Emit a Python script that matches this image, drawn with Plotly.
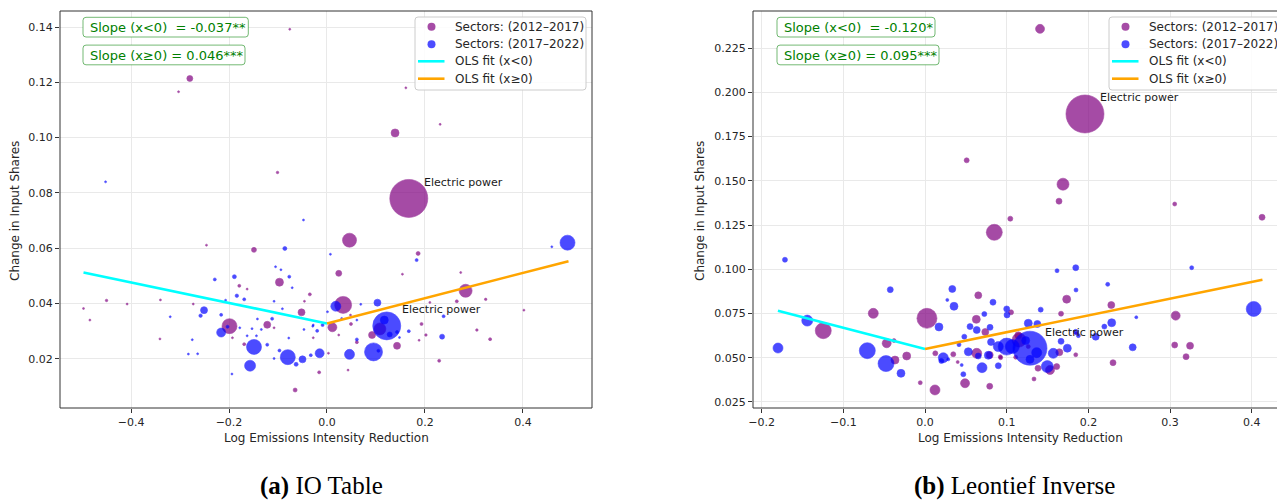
import plotly.graph_objects as go

# ---------------- data: panel (a) IO Table ----------------
a_p1_x = [-0.280, -0.303, -0.076, -0.101, -0.246, -0.149, 0.161, 0.231, 0.139, 0.167, 0.046,
          -0.497, -0.484, -0.450, -0.408, -0.340, -0.341, -0.273, -0.199, -0.179, -0.163, -0.097,
          -0.035, -0.046, -0.052, -0.122, -0.108, -0.169, -0.193, -0.065, -0.016, -0.028, 0.186,
          0.024, 0.154, 0.273, 0.283, 0.265, 0.324, 0.210, 0.033, 0.402, 0.011, 0.048, 0.049,
          0.024, 0.061, 0.193, 0.202, 0.306, 0.333, 0.229, 0.143, 0.092, 0.108, 0.043, 0.188, 0.003]
a_p1_y = [0.1214, 0.1166, 0.1392, 0.0874, 0.0611, 0.0594, 0.1180, 0.1048, 0.1017, 0.0780, 0.0629,
          0.0382, 0.0340, 0.0411, 0.0398, 0.0413, 0.0272, 0.0398, 0.0318, 0.0464, 0.0452, 0.0477,
          0.0433, 0.0408, 0.0368, 0.0323, 0.0312, 0.0253, 0.0276, 0.0087, 0.0151, 0.0276, 0.0581,
          0.0509, 0.0506, 0.0512, 0.0446, 0.0408, 0.0415, 0.0404, 0.0395, 0.0376, 0.0314, 0.0358, 0.0326,
          0.0286, 0.0260, 0.0326, 0.0286, 0.0304, 0.0271, 0.0193, 0.0247, 0.0286, 0.0308, 0.0159, 0.0267, 0.0220]
a_p1_w = [36, 2.3, 2.3, 6.3, 4, 25, 4, 2.3, 64, 1444, 196,
          2.3, 2.3, 6.3, 2.3, 2.3, 2.3, 2.3, 225, 9, 2.3, 64,
          9, 4, 49, 49, 4, 9, 2.3, 16, 9, 2.3, 16,
          36, 2.3, 2.3, 169, 9, 6.3, 4, 289, 2.3, 81, 4, 9,
          4, 9, 9, 6.3, 6.3, 9, 9, 49, 49, 144, 2.3, 2.3, 2.3]

a_p2_x = [0.491, 0.459, -0.048, -0.452, -0.086, -0.189, -0.229, -0.184, -0.169, -0.207, -0.251,
          -0.258, -0.320, -0.216, -0.216, -0.203, -0.275, -0.283, -0.149, -0.157, -0.194, -0.094,
          -0.105, -0.077, -0.071, -0.091, -0.142, -0.112, -0.153, -0.134, -0.178, -0.163, -0.144,
          -0.122, -0.078, -0.047, -0.029, -0.020, -0.009, -0.097, -0.080, -0.108, -0.063, -0.050,
          -0.033, -0.015, -0.264, -0.108, 0.001, 0.007, 0.183, 0.018, 0.103, 0.069, 0.122, 0.117,
          0.128, 0.143, 0.148, 0.167, 0.238, 0.235, 0.095, 0.105, 0.046, 0.061, 0.061, 0.030, -0.028]
a_p2_y = [0.0620, 0.0605, 0.0702, 0.0840, 0.0599, 0.0497, 0.0487, 0.0428, 0.0415, 0.0412, 0.0376,
          0.0356, 0.0352, 0.0359, 0.0295, 0.0316, 0.0269, 0.0217, 0.0243, 0.0175, 0.0145, 0.0522,
          0.0533, 0.0497, 0.0457, 0.0381, 0.0344, 0.0345, 0.0309, 0.0306, 0.0312, 0.0283, 0.0283,
          0.0251, 0.0275, 0.0306, 0.0318, 0.0301, 0.0322, 0.0230, 0.0206, 0.0201, 0.0180, 0.0198,
          0.0213, 0.0220, 0.0218, 0.0408, 0.0370, 0.0578, 0.0557, 0.0390, 0.0403, 0.0397, 0.0319, 0.0340,
          0.0288, 0.0297, 0.0277, 0.0300, 0.0354, 0.0280, 0.0225, 0.0229, 0.0216, 0.0270, 0.0340, 0.0346, 0.0322]
a_p2_w = [225, 2.3, 4, 4, 16, 16, 9, 12, 9, 4, 49,
          12, 2.3, 9, 81, 9, 4, 4, 225, 121, 4, 4,
          2.3, 9, 4, 4, 4, 9, 4, 4, 4, 4, 4,
          9, 4, 4, 4, 9, 9, 9, 225, 4, 16, 49,
          9, 81, 4, 2.3, 4, 4, 9, 100, 49, 4, 784, 64,
          25, 9, 4, 9, 9, 25, 324, 9, 100, 9, 4, 4, 4]

a_neg_fit_x = [-0.497, 0.0]
a_neg_fit_y = [0.0512, 0.0328]
a_pos_fit_x = [0.0, 0.493]
a_pos_fit_y = [0.0328, 0.0553]

# ---------------- data: panel (b) Leontief Inverse ----------------
b_p1_x = [0.1408, 0.1958, 0.0510, 0.1689, 0.1640, 0.3056, 0.4125, 0.1044, 0.0848, -0.0633,
          -0.1245, 0.0024, -0.0469, -0.0379, -0.0367, -0.0224, -0.0058, 0.0122, 0.0126, 0.0346,
          0.0400, 0.0490, 0.0652, 0.1734, 0.2280, 0.1665, 0.3068, 0.1053, 0.0628, 0.0738,
          0.1852, 0.3056, 0.3244, 0.3195, 0.1845, 0.2301, 0.0792, 0.1334, 0.0633, 0.0922,
          0.1151, 0.1383, 0.1612, 0.1530, 0.1264, 0.1142, 0.0792, 0.1644, 0.1110, 0.0926]
b_p1_y = [0.2359, 0.1878, 0.1616, 0.1481, 0.1385, 0.1369, 0.1294, 0.1286, 0.1209, 0.0751,
          0.0653, 0.0723, 0.0582, 0.0597, 0.0487, 0.0510, 0.0359, 0.0318, 0.0525, 0.0520,
          0.0476, 0.0356, 0.0853, 0.0831, 0.0798, 0.0749, 0.0738, 0.0757, 0.0717, 0.0646,
          0.0638, 0.0572, 0.0568, 0.0506, 0.0517, 0.0472, 0.0339, 0.0380, 0.0525, 0.0506,
          0.0600, 0.0441, 0.0450, 0.0431, 0.0563, 0.0627, 0.0516, 0.0531, 0.0503, 0.0500]
b_p1_w = [81, 1444, 25, 144, 36, 16, 36, 25, 256, 100,
          256, 400, 81, 16, 64, 64, 16, 100, 25, 25,
          9, 81, 49, 64, 49, 25, 81, 25, 64, 49,
          9, 36, 49, 36, 16, 36, 36, 16, 100, 16,
          196, 36, 36, 81, 16, 49, 49, 49, 16, 16]

b_p2_x = [-0.1714, -0.0425, 0.0334, 0.0273, 0.0355, -0.1441, -0.1799, -0.0706, -0.0477, -0.0294,
          0.0171, 0.0224, 0.0200, 0.0449, 0.0469, 0.0481, 0.0416, 0.0551, 0.0530, 0.0285,
          0.1845, 0.1616, 0.3264, 0.2236, 0.1848, 0.0832, 0.1000, 0.0726, 0.1416, 0.2586,
          0.4023, 0.2285, 0.2195, 0.2089, 0.2542, 0.1665, 0.1742, 0.1264, 0.1375, 0.0796,
          0.1000, 0.0897, 0.1285, 0.1367, 0.1497, 0.1570, 0.0698, 0.0897, 0.0775, 0.0652,
          0.1004, 0.0633, 0.0808, 0.1845, 0.1877, 0.1232, 0.1285, 0.1069]
b_p2_y = [0.1054, 0.0885, 0.0889, 0.0827, 0.0791, 0.0710, 0.0555, 0.0540, 0.0467, 0.0412,
          0.0674, 0.0500, 0.0482, 0.0459, 0.0407, 0.0619, 0.0574, 0.0676, 0.0534, 0.0491,
          0.1009, 0.0992, 0.1009, 0.0915, 0.0883, 0.0814, 0.0776, 0.0747, 0.0772, 0.0729,
          0.0776, 0.0698, 0.0676, 0.0619, 0.0559, 0.0593, 0.0554, 0.0695, 0.0691, 0.0672,
          0.0563, 0.0563, 0.0554, 0.0529, 0.0450, 0.0525, 0.0444, 0.0455, 0.0514, 0.0510,
          0.0742, 0.0657, 0.0589, 0.0647, 0.0625, 0.0597, 0.0491, 0.0563]
b_p2_w = [25, 36, 49, 9, 64, 121, 100, 256, 256, 64,
          64, 100, 25, 9, 25, 25, 16, 36, 64, 9,
          36, 16, 16, 16, 16, 36, 36, 25, 25, 9,
          225, 64, 25, 49, 49, 36, 64, 64, 49, 36,
          289, 100, 1156, 100, 144, 100, 100, 36, 64, 36,
          36, 49, 49, 25, 16, 64, 64, 196]

b_neg_fit_x = [-0.180, 0.0]
b_neg_fit_y = [0.0766, 0.0550]
b_pos_fit_x = [0.0, 0.413]
b_pos_fit_y = [0.0550, 0.0941]

series_names = ["Sectors: (2012\u20132017)", "Sectors: (2017\u20132022)",
                "OLS fit (x&lt;0)", "OLS fit (x\u22650)"]
slope_texts_a = ["Slope (x&lt;0)\u00a0 = -0.037**", "Slope (x\u22650) = 0.046***"]
slope_texts_b = ["Slope (x&lt;0)\u00a0 = -0.120*", "Slope (x\u22650) = 0.095***"]
captions = ["<b>(a)</b> IO Table", "<b>(b)</b> Leontief Inverse"]
label_text = "Electric power"

# ---------------- figure ----------------
W, H = 1277, 502
PURPLE, BLUE, CYAN, ORANGE = "#800080", "#0000ff", "#00ffff", "#ffa500"


def px(p):
    return p / W


def py(p):
    return 1 - p / H


def rrect(x0, y0, x1, y1, r):
    X, Y = px, py
    return (f"M {X(x0 + r)},{Y(y0)} L {X(x1 - r)},{Y(y0)} Q {X(x1)},{Y(y0)} {X(x1)},{Y(y0 + r)} "
            f"L {X(x1)},{Y(y1 - r)} Q {X(x1)},{Y(y1)} {X(x1 - r)},{Y(y1)} "
            f"L {X(x0 + r)},{Y(y1)} Q {X(x0)},{Y(y1)} {X(x0)},{Y(y1 - r)} "
            f"L {X(x0)},{Y(y0 + r)} Q {X(x0)},{Y(y0)} {X(x0 + r)},{Y(y0)} Z")


fig = go.Figure()


def add_panel(xa, ya, p1, p2, negfit, posfit):
    for (sx, sy, sw), col, nm in [(p1, PURPLE, series_names[0]), (p2, BLUE, series_names[1])]:
        fig.add_trace(go.Scatter(x=sx, y=sy, mode="markers", name=nm, showlegend=False,
                                 marker=dict(color=col, size=sw, sizemode="area", sizeref=2,
                                             sizemin=1, opacity=0.7,
                                             line=dict(color=col, width=0.6)),
                                 xaxis=xa, yaxis=ya))
    fig.add_trace(go.Scatter(x=negfit[0], y=negfit[1], mode="lines", name=series_names[2],
                             showlegend=False, line=dict(color=CYAN, width=2.6),
                             xaxis=xa, yaxis=ya))
    fig.add_trace(go.Scatter(x=posfit[0], y=posfit[1], mode="lines", name=series_names[3],
                             showlegend=False, line=dict(color=ORANGE, width=2.6),
                             xaxis=xa, yaxis=ya))


add_panel("x", "y", (a_p1_x, a_p1_y, a_p1_w), (a_p2_x, a_p2_y, a_p2_w),
          (a_neg_fit_x, a_neg_fit_y), (a_pos_fit_x, a_pos_fit_y))
add_panel("x2", "y2", (b_p1_x, b_p1_y, b_p1_w), (b_p2_x, b_p2_y, b_p2_w),
          (b_neg_fit_x, b_neg_fit_y), (b_pos_fit_x, b_pos_fit_y))

axis_common = dict(showgrid=True, gridcolor="#e9e9e9", gridwidth=1, zeroline=False,
                   showline=False, ticks="outside", ticklen=4, tickwidth=1,
                   tickcolor="#333333", tickfont=dict(size=11, color="#262626"))

fig.update_layout(
    width=W, height=H,
    margin=dict(l=0, r=0, t=0, b=0, autoexpand=False),
    paper_bgcolor="white", plot_bgcolor="white", showlegend=False,
    font=dict(family="DejaVu Sans", size=12, color="#262626"),
    xaxis=dict(domain=[px(60), px(592)], range=[-0.545, 0.541], anchor="y",
               tickvals=[-0.4, -0.2, 0.0, 0.2, 0.4], tickformat=".1f", **axis_common),
    yaxis=dict(domain=[py(408), py(11)], range=[0.0022, 0.1458], anchor="x",
               tickvals=[0.02, 0.04, 0.06, 0.08, 0.10, 0.12, 0.14], tickformat=".2f",
               **axis_common),
    xaxis2=dict(domain=[px(753), 1.0], range=[-0.2105, 0.4308], anchor="y2",
                tickvals=[-0.2, -0.1, 0.0, 0.1, 0.2, 0.3, 0.4], tickformat=".1f",
                **axis_common),
    yaxis2=dict(domain=[py(408), py(11)], range=[0.0216, 0.246], anchor="x2",
                tickvals=[0.025, 0.05, 0.075, 0.1, 0.125, 0.15, 0.175, 0.2, 0.225],
                tickformat=".3f", **axis_common),
)

shapes = []
annots = []

# axes frames
for x0, x1 in [(60, 592), (753, 1286)]:
    shapes.append(dict(type="rect", xref="paper", yref="paper", x0=px(x0), x1=px(x1),
                       y0=py(408), y1=py(11), line=dict(color="#333333", width=1),
                       fillcolor="rgba(0,0,0,0)", layer="above"))

# legends (box, symbols, labels)
for bx0, bx1 in [(415, 586), (1109, 1290)]:
    shapes.append(dict(type="path", xref="paper", yref="paper", path=rrect(bx0, 17, bx1, 90, 3),
                       line=dict(color="#cccccc", width=1), fillcolor="rgba(255,255,255,0.85)",
                       layer="above"))
    mx = bx0 + 16.5
    for cy, col in [(26.7, PURPLE), (44.3, BLUE)]:
        shapes.append(dict(type="circle", xref="paper", yref="paper", x0=px(mx - 4),
                           x1=px(mx + 4), y0=py(cy + 4), y1=py(cy - 4), fillcolor=col,
                           opacity=0.7, line=dict(width=0), layer="above"))
    for cy, col in [(61.3, CYAN), (78.7, ORANGE)]:
        shapes.append(dict(type="line", xref="paper", yref="paper", x0=px(bx0 + 3),
                           x1=px(bx0 + 29.5), y0=py(cy), y1=py(cy),
                           line=dict(color=col, width=2.6), layer="above"))
    for cy, nm in zip([26.7, 44.3, 61.3, 78.7], series_names):
        annots.append(dict(xref="paper", yref="paper", x=px(bx0 + 38), y=py(cy),
                           xanchor="left", yanchor="middle", text=nm, showarrow=False,
                           font=dict(size=12, color="#262626")))

# slope boxes
for left, texts, rights in [(83, slope_texts_a, (248.3, 245)), (777, slope_texts_b, (935, 939))]:
    for i, t in enumerate(texts):
        top = 17.3 + 27.8 * i
        shapes.append(dict(type="path", xref="paper", yref="paper",
                           path=rrect(left, top, rights[i], top + 19.7, 3),
                           line=dict(color="rgba(0,128,0,0.55)", width=1), fillcolor="white",
                           layer="above"))
        annots.append(dict(xref="paper", yref="paper", x=px(left + 4.5), y=py(top + 10),
                           xanchor="left", yanchor="middle", text=t, showarrow=False,
                           font=dict(size=13, color="#008000")))

# axis titles
for cx in [326, 1020]:
    annots.append(dict(xref="paper", yref="paper", x=px(cx), y=py(438), xanchor="center",
                       yanchor="middle", text="Log Emissions Intensity Reduction",
                       showarrow=False, font=dict(size=12, color="#262626")))
for cx in [15, 700]:
    annots.append(dict(xref="paper", yref="paper", x=px(cx), y=py(211), xanchor="center",
                       yanchor="middle", text="Change in Input Shares", textangle=-90,
                       showarrow=False, font=dict(size=12, color="#262626")))
# Electric power labels (anchored to the largest bubble of each series)
for xr, yr, sx, sy, sw in [("x", "y", a_p1_x, a_p1_y, a_p1_w), ("x", "y", a_p2_x, a_p2_y, a_p2_w),
                           ("x2", "y2", b_p1_x, b_p1_y, b_p1_w), ("x2", "y2", b_p2_x, b_p2_y, b_p2_w)]:
    k = sw.index(max(sw))
    annots.append(dict(xref=xr, yref=yr, x=sx[k], y=sy[k], xanchor="left", yanchor="middle",
                       xshift=13, yshift=16, text=label_text, showarrow=False,
                       font=dict(size=11, color="#1a1a1a")))
# captions
for cx, t in [(321, captions[0]), (1015, captions[1])]:
    annots.append(dict(xref="paper", yref="paper", x=px(cx), y=py(486), xanchor="center",
                       yanchor="middle", text=t, showarrow=False,
                       font=dict(family="Liberation Serif", size=25, color="black")))

fig.update_layout(shapes=shapes, annotations=annots)

fig.write_html("out.html")
